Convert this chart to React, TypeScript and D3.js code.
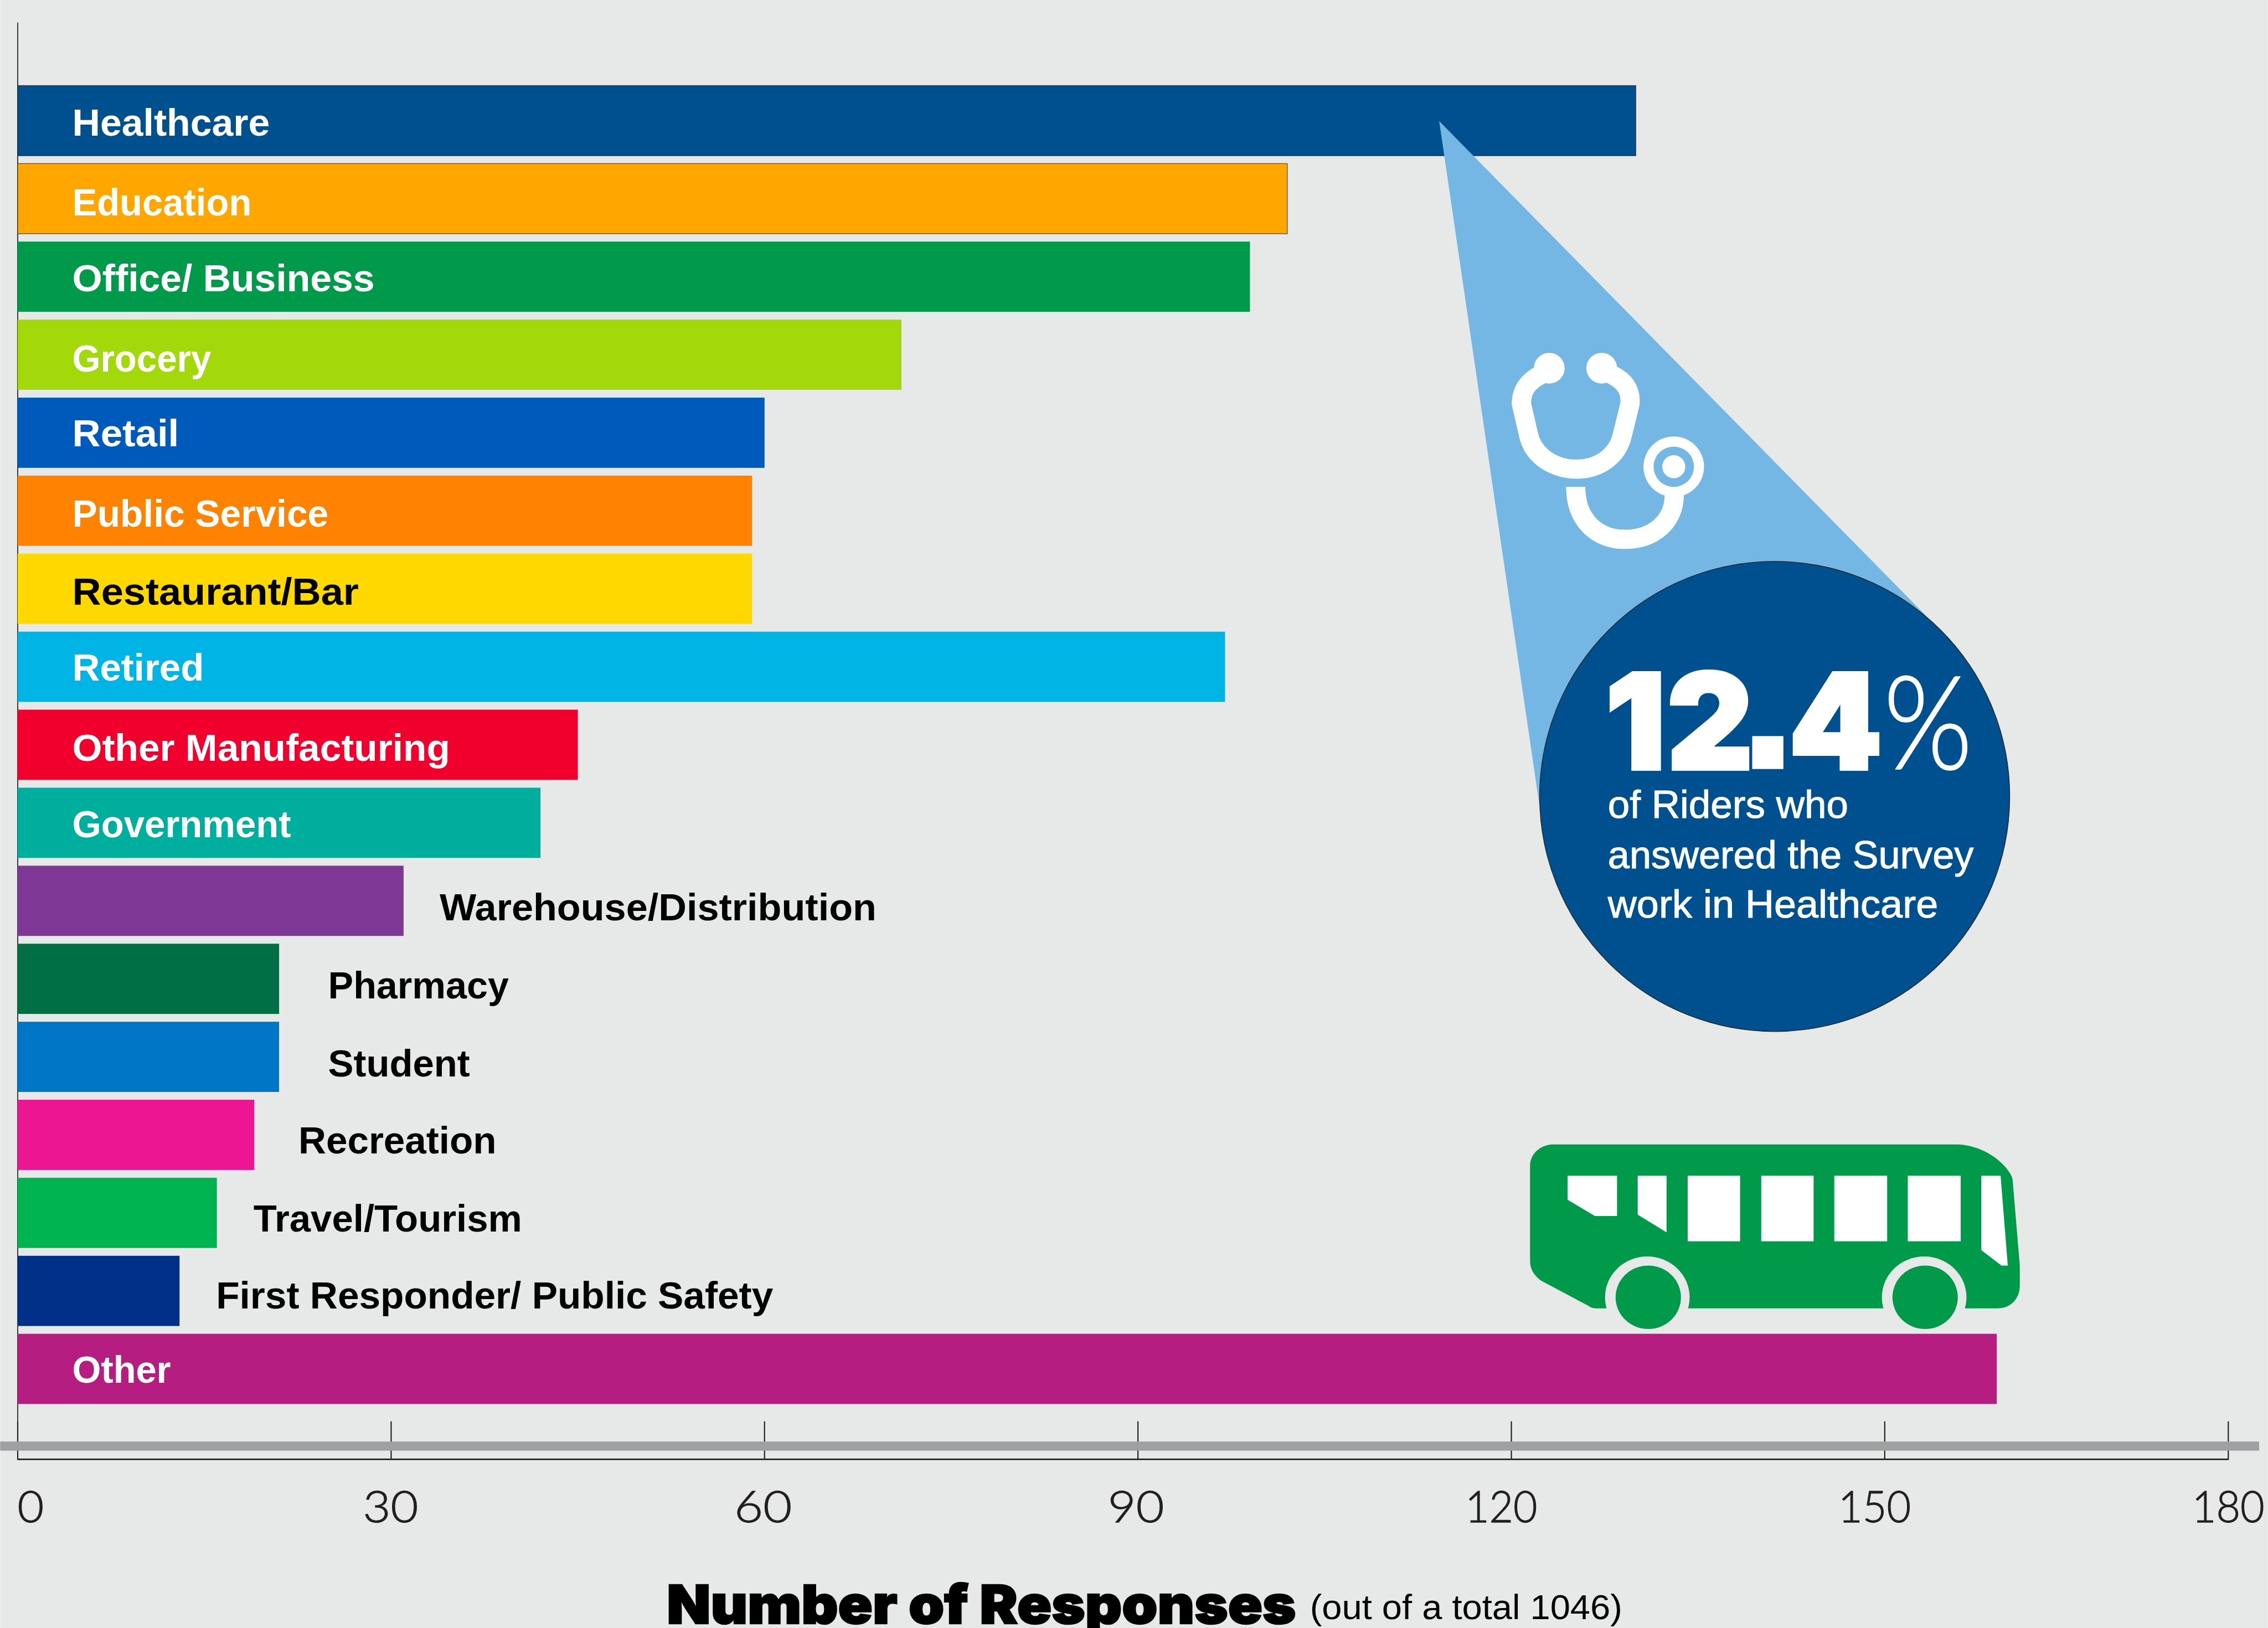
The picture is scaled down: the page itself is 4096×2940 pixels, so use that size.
import React from 'react';
import * as d3 from 'd3';

const categories = ['Healthcare','Education','Office/ Business','Grocery','Retail','Public Service','Restaurant/Bar','Retired','Other Manufacturing','Government','Warehouse/Distribution','Pharmacy','Student','Recreation','Travel/Tourism','First Responder/ Public Safety','Other'];
const responses = [130,102,99,71,60,59,59,97,45,42,31,21,21,19,16,13,159];
const barColors = ['#00508F','#FFA700','#009A4A','#A3D80A','#005ABB','#FF8200','#FFD800','#00B5E6','#F2002D','#00AE9D','#7F3795','#006F46','#0076C6','#EC1693','#00B451','#003087','#B51E80'];
const labelColors = ['#fff','#fff','#fff','#fff','#fff','#fff','#000','#fff','#fff','#fff','#000','#000','#000','#000','#000','#000','#fff'];
// layout of the labels, in reference pixels
const labelOutsideGap = [0,0,0,0,0,0,0,0,0,0,75,102,102,92,76,76,0];
const labelBaselineDy = [104,108,103,108,101,106,106,102,106,103,114,114,114,112,112,110,102];
const labelWidths = [411,373,629,289,222,533,596,274,786,455,909,376,295,412,559,1159,205];
const tickValues = [0,30,60,90,120,150,177.6];
const tickLabels = ['0','30','60','90','120','150','180'];
const tickLabelDx = [27,-1,-3,-4,-21,-21,0];
const tickLabelWidths = [55,115,120,117,150,151,151];
const calloutLines = ['of Riders who','answered the Survey','work in Healthcare'];
const calloutBaselines = [1702,1806,1909];
const calloutWidths = [500,761,687];
const windowRects = [[3511,3620],[3664,3773],[3816,3926],[3969,4079]];
const wheelCentres = [3429,4005];

const W = 4718, H = 3387;
const BG = '#E7E9E8';
const INK = '#231F20';
const SANS = '"Liberation Sans", Arial, sans-serif';

export default function App() {
  const x = d3.scaleLinear().domain([0, 150]).range([36.5, 3921]);
  const y = d3.scaleBand().domain(categories).range([178, 2921]).paddingInner(0.1).paddingOuter(0);
  const axisBottom = 3036;
  const tickTop = 2957;
  return (
    <svg width={4096} height={2940} viewBox={`0 0 ${W} ${H}`} style={{ position: 'fixed', left: 0, top: 0, display: 'block' }}>
      <rect x={0} y={0} width={W} height={H} fill={BG} />

      {/* bus */}
      <g>
        <path fill="#009A4A" d="M3232,2381 L4072,2381 C4105,2381 4155,2400 4181,2440 C4184,2445 4186,2449 4187,2454 L4202,2633 L4202,2675 C4202,2700 4185,2722 4155,2722 L3326,2722 C3318,2722 3311,2722 3305,2717 L3207,2665 C3192,2655 3183,2640 3183,2625 L3183,2426 C3183,2400 3205,2381 3232,2381 Z" />
        {wheelCentres.map((c) => (
          <g key={c}>
            <ellipse cx={c - 2} cy={2699} rx={88} ry={85} fill={BG} />
            <ellipse cx={c} cy={2699} rx={68} ry={66} fill="#009A4A" />
          </g>
        ))}
        <path fill="#fff" d="M3261,2446 L3364,2446 L3364,2530 L3318,2530 L3261,2496 Z" />
        <path fill="#fff" d="M3407,2446 L3467,2446 L3467,2564 L3407,2527 Z" />
        {windowRects.map(([a, b]) => (
          <rect key={a} x={a} y={2446} width={b - a} height={136.5} fill="#fff" />
        ))}
        <path fill="#fff" d="M4122,2446 L4162,2446 L4177,2633 L4164,2633 L4122,2601 Z" />
      </g>

      {/* axis */}
      <line x1={36.5} x2={36.5} y1={47} y2={axisBottom + 1} stroke={INK} strokeWidth={2} />
      <line x1={36} x2={x(tickValues[6]) + 1} y1={axisBottom} y2={axisBottom} stroke={INK} strokeWidth={3} />
      {tickValues.map((v) => (
        <line key={v} x1={x(v)} x2={x(v)} y1={tickTop} y2={axisBottom} stroke={INK} strokeWidth={2.5} />
      ))}
      <rect x={0} y={2999} width={4700} height={19} fill="#9FA0A2" />
      {tickValues.map((v, i) => (
        <text key={v} x={x(v) + tickLabelDx[i]} y={3167} textAnchor="middle" fontFamily="Lato" fontWeight={300} fontSize={92} fill={INK} stroke={INK} strokeWidth={1.5}
          textLength={tickLabelWidths[i]} lengthAdjust="spacingAndGlyphs">{tickLabels[i]}</text>
      ))}

      {/* bars */}
      {categories.map((c, i) => (
        <rect key={c} x={x(0)} y={y(c)} width={x(responses[i]) - x(0)} height={y.bandwidth()} fill={barColors[i]}
          stroke={i < 2 ? 'rgba(35,31,32,0.7)' : 'none'} strokeWidth={1.5} />
      ))}
      {categories.map((c, i) => {
        const gap = labelOutsideGap[i];
        const lx = gap ? x(responses[i]) + gap : 150;
        return (
          <text key={c} x={lx} y={(y(c) as number) + labelBaselineDy[i]} fontFamily={SANS} fontWeight={700} fontSize={80} fill={labelColors[i]}
            textLength={labelWidths[i]} lengthAdjust="spacingAndGlyphs">{c}</text>
        );
      })}

      {/* callout */}
      <path fill="#74B6E4" d="M2994,252 L4007,1281 L3692,1657 L3203,1679 Z" />
      <circle cx={3692} cy={1657} r={489} fill="#00508F" stroke={INK} strokeWidth={1.5} />
      <g fill="none" stroke="#fff" strokeWidth={40}>
        <path d="M3215,775 C3180,790 3165,810 3165,840 L3180,905 C3190,950 3235,976 3279,976 C3325,976 3365,950 3375,905 L3391,840 C3393,810 3380,790 3343,775" />
        <path d="M3278,1013 C3278,1085 3325,1122 3380,1122 C3440,1122 3483,1085 3483,1030" />
      </g>
      <circle cx={3223} cy={766} r={32} fill="#fff" />
      <circle cx={3332} cy={766} r={32} fill="#fff" />
      <circle cx={3482} cy={971} r={63} fill="#fff" />
      <circle cx={3482} cy={971} r={42} fill="#74B6E4" />
      <circle cx={3482} cy={971} r={24} fill="#fff" />

      <text y={1600} fontFamily="Inter" fontWeight={900} fontSize={276} fill="#fff" stroke="#fff" strokeWidth={7}>
        <tspan x="3340 3468">12</tspan>
        <tspan x={3614} fontFamily={SANS} fontWeight={700} fontSize={460} strokeWidth={0}>.</tspan>
        <tspan x={3722}>4</tspan>
      </text>
      <text x={3918} y={1600} fontFamily="Lato" fontWeight={300} fontSize={270} fill="#fff" stroke="#fff" strokeWidth={2} textLength={186} lengthAdjust="spacingAndGlyphs">%</text>
      {calloutLines.map((t, i) => (
        <text key={t} x={3345} y={calloutBaselines[i]} fontFamily={SANS} fontSize={81} fill="#fff" stroke="#fff" strokeWidth={1.2}
          textLength={calloutWidths[i]} lengthAdjust="spacingAndGlyphs">{t}</text>
      ))}

      {/* axis title */}
      <text x={1387} y={3378} fontFamily="Inter" fontWeight={900} fontSize={111} fill="#000" stroke="#000" strokeWidth={3} textLength={1309} lengthAdjust="spacingAndGlyphs">Number of Responses</text>
      <text x={2725} y={3368} fontFamily={SANS} fontSize={72} fill="#000" textLength={650} lengthAdjust="spacingAndGlyphs">(out of a total 1046)</text>
    </svg>
  );
}
